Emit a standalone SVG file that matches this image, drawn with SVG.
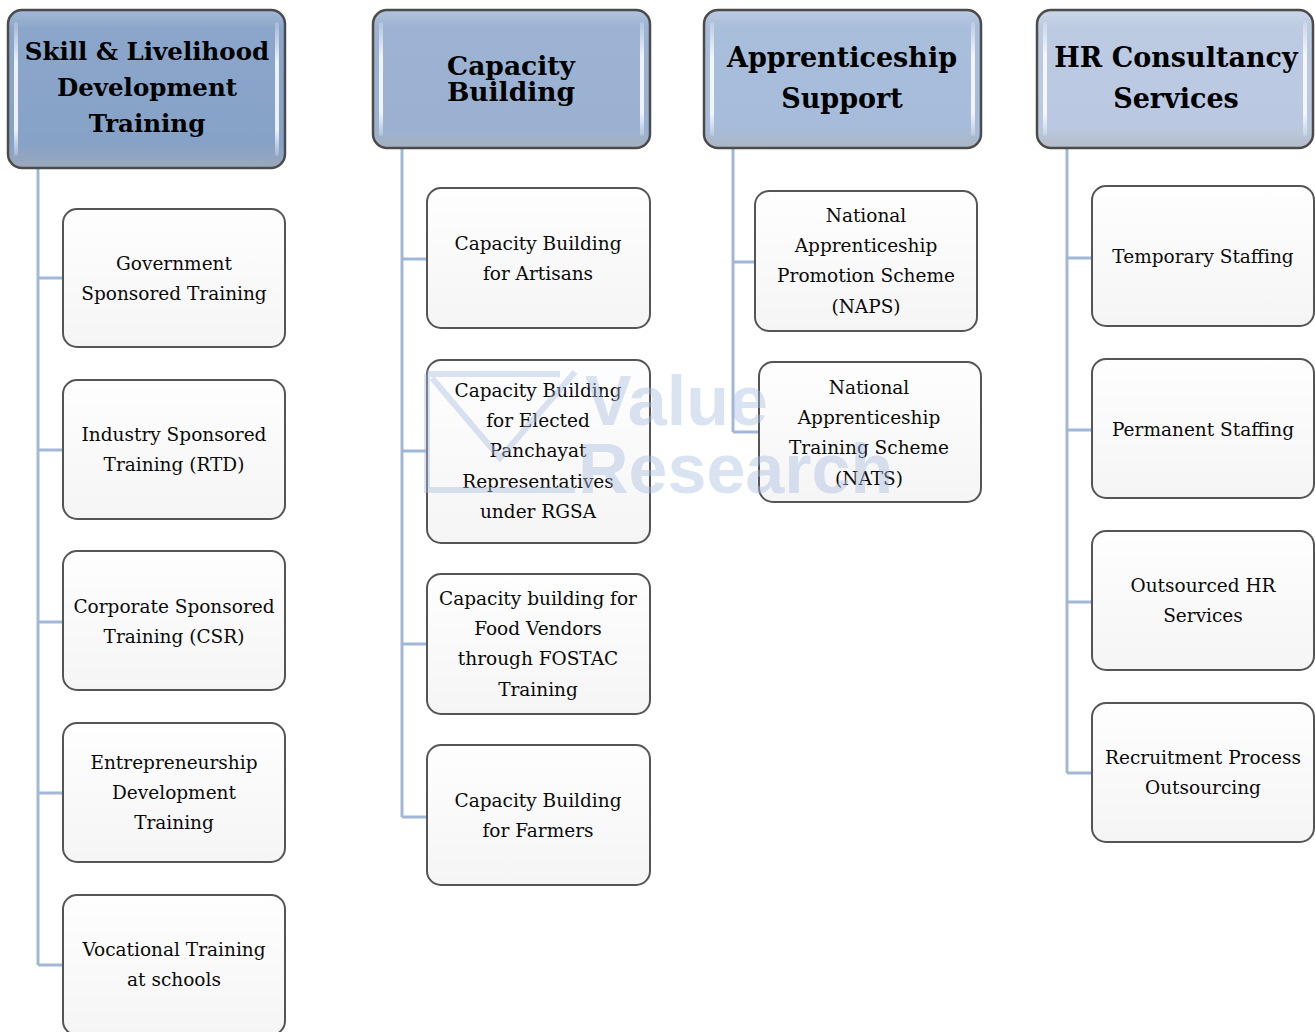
<svg xmlns="http://www.w3.org/2000/svg" width="1315" height="1032" viewBox="0 0 1315 1032">
  <defs>
    <linearGradient id="gHead1" x1="0" y1="0" x2="0" y2="1">
      <stop offset="0" stop-color="#a3b8d6"/>
      <stop offset="0.12" stop-color="#8ba6ca"/>
      <stop offset="0.85" stop-color="#87a2c7"/>
      <stop offset="1" stop-color="#9aa8bb"/>
    </linearGradient>
    <linearGradient id="gHead2" x1="0" y1="0" x2="0" y2="1">
      <stop offset="0" stop-color="#b3c4dd"/>
      <stop offset="0.12" stop-color="#9db3d3"/>
      <stop offset="0.85" stop-color="#9bb1d2"/>
      <stop offset="1" stop-color="#a6b1c1"/>
    </linearGradient>
    <linearGradient id="gHead3" x1="0" y1="0" x2="0" y2="1">
      <stop offset="0" stop-color="#bccbe2"/>
      <stop offset="0.12" stop-color="#a9bedb"/>
      <stop offset="0.85" stop-color="#a7bcda"/>
      <stop offset="1" stop-color="#adb6c4"/>
    </linearGradient>
    <linearGradient id="gHead4" x1="0" y1="0" x2="0" y2="1">
      <stop offset="0" stop-color="#ccd7e8"/>
      <stop offset="0.12" stop-color="#bccbe2"/>
      <stop offset="0.85" stop-color="#bac9e1"/>
      <stop offset="1" stop-color="#b5bcc7"/>
    </linearGradient>
    <linearGradient id="gShine" x1="0" y1="0" x2="0" y2="1">
      <stop offset="0" stop-color="#ffffff" stop-opacity="0.2"/>
      <stop offset="0.3" stop-color="#ffffff" stop-opacity="0.85"/>
      <stop offset="0.8" stop-color="#ffffff" stop-opacity="0.85"/>
      <stop offset="1" stop-color="#ffffff" stop-opacity="0.2"/>
    </linearGradient>
    <linearGradient id="gChild" x1="0" y1="0" x2="0" y2="1">
      <stop offset="0" stop-color="#fefefe"/>
      <stop offset="1" stop-color="#f5f5f5"/>
    </linearGradient>
  </defs>
  <style>
    .head { stroke: #4b4b4b; stroke-width: 2.5; }
    .shine { fill: url(#gShine); }
    .child { fill: url(#gChild); stroke: #555555; stroke-width: 2; }
    .ht { font-family: "DejaVu Serif", Georgia, serif; font-weight: bold; fill: #000; text-anchor: middle; }
    .ct { font-family: "DejaVu Serif", Georgia, serif; font-size: 18.5px; fill: #0a0a0a; text-anchor: middle; }
    .link { fill: none; stroke: #a2b7d7; stroke-width: 3; }
    .wm { font-family: "Liberation Sans", Arial, sans-serif; font-weight: bold; font-size: 70px; fill: #a9bde0; }
  </style>

  <rect width="1315" height="1032" fill="#ffffff"/>

  <!-- connectors -->
  <g id="connectors">
    <path class="link" d="M38 168 V965 M38 278 H63 M38 450 H63 M38 622 H63 M38 793 H63 M38 965 H63"/>
    <path class="link" d="M402 148 V817 M402 259 H427 M402 451 H427 M402 644 H427 M402 817 H427"/>
    <path class="link" d="M733 148 V432 M733 262 H755 M733 432 H759"/>
    <path class="link" d="M1067 148 V773 M1067 258 H1092 M1067 430 H1092 M1067 602 H1092 M1067 773 H1092"/>
  </g>

  <!-- column headers -->
  <g id="head-skill">
    <rect class="head" x="8" y="10" width="277" height="158" rx="14" fill="url(#gHead1)"/>
    <rect class="shine" x="14" y="22" width="4" height="134" rx="2"/>
    <rect class="shine" x="275" y="22" width="4" height="134" rx="2"/>
    <text class="ht" font-size="24.5" x="147" y="60">Skill &amp; Livelihood</text>
    <text class="ht" font-size="24.5" x="147" y="96">Development</text>
    <text class="ht" font-size="24.5" x="147" y="132">Training</text>
  </g>
  <g id="head-capacity">
    <rect class="head" x="373" y="10" width="277" height="138" rx="14" fill="url(#gHead2)"/>
    <rect class="shine" x="379" y="22" width="4" height="114" rx="2"/>
    <rect class="shine" x="640" y="22" width="4" height="114" rx="2"/>
    <text class="ht" font-size="26.5" x="511" y="75">Capacity</text>
    <text class="ht" font-size="26.5" x="511" y="101">Building</text>
  </g>
  <g id="head-apprentice">
    <rect class="head" x="704" y="10" width="277" height="138" rx="14" fill="url(#gHead3)"/>
    <rect class="shine" x="710" y="22" width="4" height="114" rx="2"/>
    <rect class="shine" x="971" y="22" width="4" height="114" rx="2"/>
    <text class="ht" font-size="27" x="842" y="67">Apprenticeship</text>
    <text class="ht" font-size="27" x="842" y="108">Support</text>
  </g>
  <g id="head-hr">
    <rect class="head" x="1037" y="10" width="276" height="138" rx="14" fill="url(#gHead4)"/>
    <rect class="shine" x="1043" y="22" width="4" height="114" rx="2"/>
    <rect class="shine" x="1303" y="22" width="4" height="114" rx="2"/>
    <text class="ht" font-size="27" x="1176" y="67">HR Consultancy</text>
    <text class="ht" font-size="27" x="1176" y="108">Services</text>
  </g>

  <!-- Skill & Livelihood children -->
  <g id="govt-sponsored">
    <rect class="child" x="63" y="209" width="222" height="138" rx="14"/>
    <text class="ct" x="174" y="270">Government</text>
    <text class="ct" x="174" y="300">Sponsored Training</text>
  </g>
  <g id="industry-sponsored">
    <rect class="child" x="63" y="380" width="222" height="139" rx="14"/>
    <text class="ct" x="174" y="441">Industry Sponsored</text>
    <text class="ct" x="174" y="471">Training (RTD)</text>
  </g>
  <g id="corporate-sponsored">
    <rect class="child" x="63" y="551" width="222" height="139" rx="14"/>
    <text class="ct" x="174" y="613">Corporate Sponsored</text>
    <text class="ct" x="174" y="643">Training (CSR)</text>
  </g>
  <g id="entrepreneurship">
    <rect class="child" x="63" y="723" width="222" height="139" rx="14"/>
    <text class="ct" x="174" y="769">Entrepreneurship</text>
    <text class="ct" x="174" y="799">Development</text>
    <text class="ct" x="174" y="829">Training</text>
  </g>
  <g id="vocational">
    <rect class="child" x="63" y="895" width="222" height="140" rx="14"/>
    <text class="ct" x="174" y="956">Vocational Training</text>
    <text class="ct" x="174" y="986">at schools</text>
  </g>

  <!-- Capacity Building children -->
  <g id="cb-artisans">
    <rect class="child" x="427" y="188" width="223" height="140" rx="14"/>
    <text class="ct" x="538" y="250">Capacity Building</text>
    <text class="ct" x="538" y="280">for Artisans</text>
  </g>
  <g id="cb-panchayat">
    <rect class="child" x="427" y="360" width="223" height="183" rx="14"/>
    <text class="ct" x="538" y="397">Capacity Building</text>
    <text class="ct" x="538" y="427">for Elected</text>
    <text class="ct" x="538" y="457">Panchayat</text>
    <text class="ct" x="538" y="488">Representatives</text>
    <text class="ct" x="538" y="518">under RGSA</text>
  </g>
  <g id="cb-food-vendors">
    <rect class="child" x="427" y="574" width="223" height="140" rx="14"/>
    <text class="ct" x="538" y="605">Capacity building for</text>
    <text class="ct" x="538" y="635">Food Vendors</text>
    <text class="ct" x="538" y="665">through FOSTAC</text>
    <text class="ct" x="538" y="696">Training</text>
  </g>
  <g id="cb-farmers">
    <rect class="child" x="427" y="745" width="223" height="140" rx="14"/>
    <text class="ct" x="538" y="807">Capacity Building</text>
    <text class="ct" x="538" y="837">for Farmers</text>
  </g>

  <!-- Apprenticeship Support children -->
  <g id="naps">
    <rect class="child" x="755" y="191" width="222" height="140" rx="14"/>
    <text class="ct" x="866" y="222">National</text>
    <text class="ct" x="866" y="252">Apprenticeship</text>
    <text class="ct" x="866" y="282">Promotion Scheme</text>
    <text class="ct" x="866" y="313">(NAPS)</text>
  </g>
  <g id="nats">
    <rect class="child" x="759" y="362" width="222" height="140" rx="14"/>
    <text class="ct" x="869" y="394">National</text>
    <text class="ct" x="869" y="424">Apprenticeship</text>
    <text class="ct" x="869" y="454">Training Scheme</text>
    <text class="ct" x="869" y="485">(NATS)</text>
  </g>

  <!-- HR Consultancy children -->
  <g id="temp-staffing">
    <rect class="child" x="1092" y="186" width="222" height="140" rx="14"/>
    <text class="ct" x="1203" y="263">Temporary Staffing</text>
  </g>
  <g id="perm-staffing">
    <rect class="child" x="1092" y="359" width="222" height="139" rx="14"/>
    <text class="ct" x="1203" y="436">Permanent Staffing</text>
  </g>
  <g id="outsourced-hr">
    <rect class="child" x="1092" y="531" width="222" height="139" rx="14"/>
    <text class="ct" x="1203" y="592">Outsourced HR</text>
    <text class="ct" x="1203" y="622">Services</text>
  </g>
  <g id="rpo">
    <rect class="child" x="1092" y="703" width="222" height="139" rx="14"/>
    <text class="ct" x="1203" y="764">Recruitment Process</text>
    <text class="ct" x="1203" y="794">Outsourcing</text>
  </g>

  <!-- translucent watermark -->
  <g id="watermark" opacity="0.42">
    <path d="M427 374 H560 M427 374 V490 H575" fill="none" stroke="#a9bde0" stroke-width="6"/>
    <path d="M432 378 L500 458 L575 372" fill="none" stroke="#a9bde0" stroke-width="6"/>
    <text class="wm" x="585" y="425">Value</text>
    <text class="wm" x="578" y="493">Research</text>
  </g>
</svg>
